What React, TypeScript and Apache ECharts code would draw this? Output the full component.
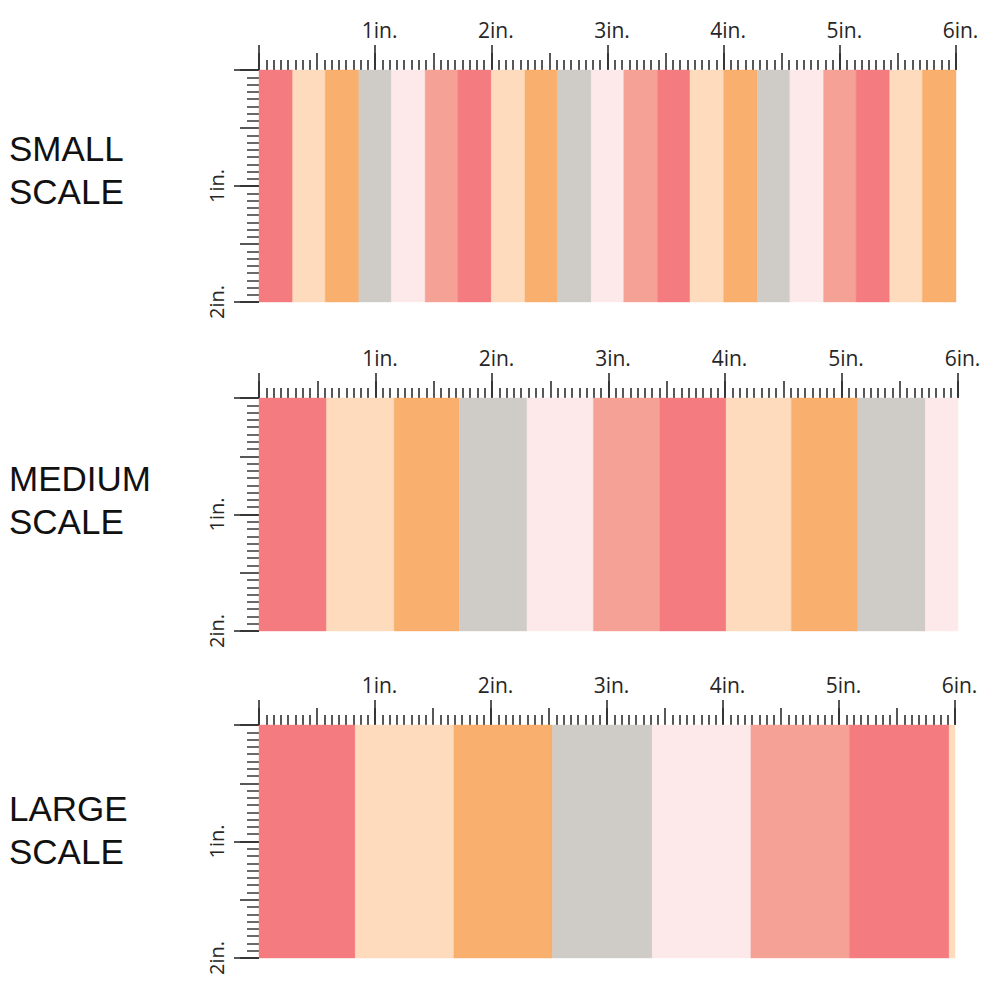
import React, { useEffect, useRef } from "react";
import * as echarts from "echarts";

// stripe palette: coral, peach, orange, grey, blush, salmon
const stripeColors = ["#F47C80", "#FDDBBC", "#F9AF6D", "#CFCBC6", "#FDE9E9", "#F6A195"];

// stripe boundaries in inches
const smallEdges = [0, 0.29, 0.57, 0.86, 1.14, 1.43, 1.71, 2.0, 2.29, 2.57, 2.86, 3.14, 3.43, 3.71, 4.0, 4.29, 4.57, 4.86, 5.14, 5.43, 5.71, 6.0];
const smallColorIdx = [0, 1, 2, 3, 4, 5, 0, 1, 2, 3, 4, 5, 0, 1, 2, 3, 4, 5, 0, 1, 2];
const mediumEdges = [0, 0.58, 1.16, 1.72, 2.3, 2.87, 3.44, 4.01, 4.57, 5.14, 5.72, 6.0];
const mediumColorIdx = [0, 1, 2, 3, 4, 5, 0, 1, 2, 3, 4];
const largeEdges = [0, 0.83, 1.68, 2.53, 3.39, 4.24, 5.09, 5.95, 6.0];
const largeColorIdx = [0, 1, 2, 3, 4, 5, 0, 1];

// ruler labels
const xInchLabels = ["", "1in.", "2in.", "3in.", "4in.", "5in.", "6in."];
const yInchLabels = ["", "1in.", "2in."];

// panel captions
const panelCaptions = [
  ["SMALL", "SCALE"],
  ["MEDIUM", "SCALE"],
  ["LARGE", "SCALE"],
];

const panels = [
  { edges: smallEdges, colors: smallColorIdx },
  { edges: mediumEdges, colors: mediumColorIdx },
  { edges: largeEdges, colors: largeColorIdx },
];

// layout (pixels)
const gridLayout = [
  { left: 259, top: 70, width: 697, height: 232, captionTop: 131 },
  { left: 259, top: 398, width: 699, height: 233, captionTop: 461 },
  { left: 259, top: 725, width: 696, height: 233, captionTop: 791 },
];

const TICK = "#2e2e2e";
const RULER_FONT = "'Open Sans', 'Noto Sans', sans-serif";

export default function App() {
  const ref = useRef<HTMLDivElement>(null);

  useEffect(() => {
    if (!ref.current) return;
    const chart = echarts.init(ref.current, undefined, { renderer: "svg" });

    const grid: any[] = [];
    const xAxis: any[] = [];
    const yAxis: any[] = [];
    const series: any[] = [];
    const graphic: any[] = [];

    panels.forEach((p, gi) => {
      const g = gridLayout[gi];
      grid.push({ left: g.left, top: g.top, width: g.width, height: g.height, containLabel: false });

      const baseX = {
        type: "value",
        gridIndex: gi,
        position: "top",
        min: 0,
        max: 6,
        axisLine: { show: false },
        splitLine: { show: false },
      };
      const xMajor = xAxis.length;
      xAxis.push({
        ...baseX,
        interval: 1,
        axisTick: { show: true, length: 25, lineStyle: { color: TICK, width: 1.6 } },
        axisLabel: {
          show: true,
          showMinLabel: true,
          showMaxLabel: true,
          margin: 30,
          padding: [0, 0, 0, 9],
          color: "#262626",
          fontSize: 21,
          fontFamily: RULER_FONT,
          formatter: (v: number) => xInchLabels[Math.round(v)] ?? "",
        },
      });
      xAxis.push({
        ...baseX,
        interval: 0.5,
        axisTick: { show: true, length: 17, lineStyle: { color: TICK, width: 1.6 } },
        minorTick: { show: true, splitNumber: 8, length: 10, lineStyle: { color: TICK, width: 1.6 } },
        axisLabel: { show: false },
      });

      const baseY = {
        type: "value",
        gridIndex: gi,
        position: "left",
        inverse: true,
        min: 0,
        max: 2,
        axisLine: { show: false },
        splitLine: { show: false },
      };
      const yMajor = yAxis.length;
      yAxis.push({
        ...baseY,
        interval: 1,
        axisTick: { show: true, length: 25, lineStyle: { color: TICK, width: 1.6 } },
        axisLabel: {
          show: true,
          showMinLabel: true,
          showMaxLabel: true,
          rotate: 90,
          margin: 33,
          color: "#262626",
          fontSize: 20,
          fontFamily: RULER_FONT,
          formatter: (v: number) => yInchLabels[Math.round(v)] ?? "",
        },
      });
      yAxis.push({
        ...baseY,
        interval: 0.5,
        axisTick: { show: true, length: 19, lineStyle: { color: TICK, width: 1.6 } },
        minorTick: { show: true, splitNumber: 8, length: 12, lineStyle: { color: "#444", width: 1.6 } },
        axisLabel: { show: false },
      });

      const data = p.colors.map((c, i) => [p.edges[i], p.edges[i + 1], c]);
      series.push({
        type: "custom",
        xAxisIndex: xMajor,
        yAxisIndex: yMajor,
        silent: true,
        data,
        renderItem: (_params: any, api: any) => {
          const s = api.value(0);
          const e = api.value(1);
          const c = api.value(2);
          const p0 = api.coord([s, 0]);
          const p1 = api.coord([e, 2]);
          return {
            type: "rect",
            shape: { x: p0[0], y: p0[1], width: p1[0] - p0[0], height: p1[1] - p0[1] },
            style: { fill: stripeColors[c], stroke: stripeColors[c], lineWidth: 0.4 },
          };
        },
      });

      panelCaptions[gi].forEach((line, li) => {
        graphic.push({
          type: "text",
          left: 9,
          top: g.captionTop + li * 43,
          style: {
            text: line,
            fill: "#111",
            font: "35px 'Liberation Sans', Arial, sans-serif",
          },
        });
      });
    });

    chart.setOption({
      animation: false,
      backgroundColor: "#ffffff",
      grid,
      xAxis,
      yAxis,
      series,
      graphic,
    });

    return () => chart.dispose();
  }, []);

  return (
    <div
      ref={ref}
      style={{ position: "fixed", left: 0, top: 0, width: 1000, height: 1000, background: "#fff" }}
    />
  );
}
